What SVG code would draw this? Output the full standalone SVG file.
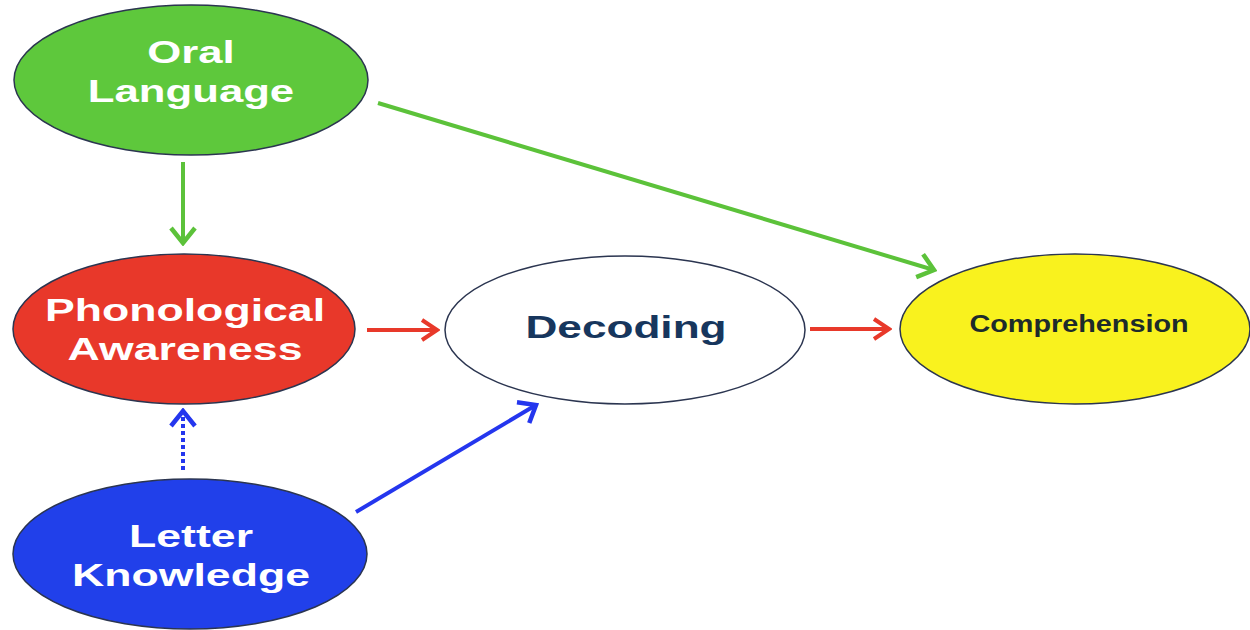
<svg xmlns="http://www.w3.org/2000/svg" width="1250" height="630" viewBox="0 0 1250 630">
  <style>
    .node { stroke: #2b3550; stroke-width: 1.5; }
    .lbl { font-family: "Liberation Sans", Arial, sans-serif; font-weight: bold; text-anchor: middle; }
    .white { fill: #ffffff; font-size: 31px; }
    .edge { fill: none; stroke-width: 4; stroke-linecap: butt; }
  </style>
  <defs>
    <marker id="headGreen" markerUnits="userSpaceOnUse" viewBox="0 0 20 28" refX="17" refY="14" markerWidth="20" markerHeight="28" orient="auto">
      <path d="M2,2 L17,14 L2,26" fill="none" stroke="#5cc23a" stroke-width="4.5"/>
    </marker>
    <marker id="headRed" markerUnits="userSpaceOnUse" viewBox="0 0 20 24" refX="17" refY="12" markerWidth="20" markerHeight="24" orient="auto">
      <path d="M2,2 L17,12 L2,22" fill="none" stroke="#e8392a" stroke-width="4"/>
    </marker>
    <marker id="headBlue" markerUnits="userSpaceOnUse" viewBox="0 0 20 28" refX="17" refY="14" markerWidth="20" markerHeight="28" orient="auto">
      <path d="M2,2 L17,14 L2,26" fill="none" stroke="#2436ee" stroke-width="4.5"/>
    </marker>
  </defs>

  <rect width="1250" height="630" fill="#ffffff"/>

  <!-- connectors -->
  <g id="connectors">
    <line class="edge" x1="183" y1="162" x2="183" y2="243" stroke="#5cc23a" marker-end="url(#headGreen)"/>
    <line class="edge" x1="378" y1="103" x2="934" y2="270" stroke="#5cc23a" marker-end="url(#headGreen)"/>
    <line class="edge" x1="367" y1="330" x2="437" y2="330" stroke="#e8392a" marker-end="url(#headRed)"/>
    <line class="edge" x1="810" y1="329" x2="889" y2="329" stroke="#e8392a" marker-end="url(#headRed)"/>
    <line class="edge" x1="183" y1="470" x2="183" y2="411" stroke="#2436ee" stroke-dasharray="4,3" marker-end="url(#headBlue)"/>
    <line class="edge" x1="356" y1="512" x2="536" y2="405" stroke="#2436ee" marker-end="url(#headBlue)"/>
  </g>

  <g id="oral-language">
    <ellipse class="node" cx="191" cy="80" rx="177" ry="75" fill="#5ec83c"/>
    <text class="lbl white" font-size="32" transform="translate(191,63) scale(1.41,1)">Oral</text>
    <text class="lbl white" font-size="32" transform="translate(191,102) scale(1.41,1)">Language</text>
  </g>

  <g id="phonological-awareness">
    <ellipse class="node" cx="184" cy="329" rx="171" ry="75" fill="#e8382a"/>
    <text class="lbl white" transform="translate(185,321) scale(1.44,1)">Phonological</text>
    <text class="lbl white" transform="translate(185,360) scale(1.44,1)">Awareness</text>
  </g>

  <g id="letter-knowledge">
    <ellipse class="node" cx="190" cy="554" rx="177" ry="75" fill="#2140ea"/>
    <text class="lbl white" transform="translate(191,547) scale(1.44,1)">Letter</text>
    <text class="lbl white" transform="translate(191,586) scale(1.44,1)">Knowledge</text>
  </g>

  <g id="decoding">
    <ellipse class="node" cx="625" cy="330" rx="180" ry="74" fill="#ffffff"/>
    <text class="lbl" font-size="32" fill="#17365d" transform="translate(626,338) scale(1.38,1)">Decoding</text>
  </g>

  <g id="comprehension">
    <ellipse class="node" cx="1075" cy="329" rx="175" ry="75" fill="#f9f21e"/>
    <text class="lbl" font-size="24" fill="#1d2b2b" transform="translate(1079,332) scale(1.2,1)">Comprehension</text>
  </g>
</svg>
